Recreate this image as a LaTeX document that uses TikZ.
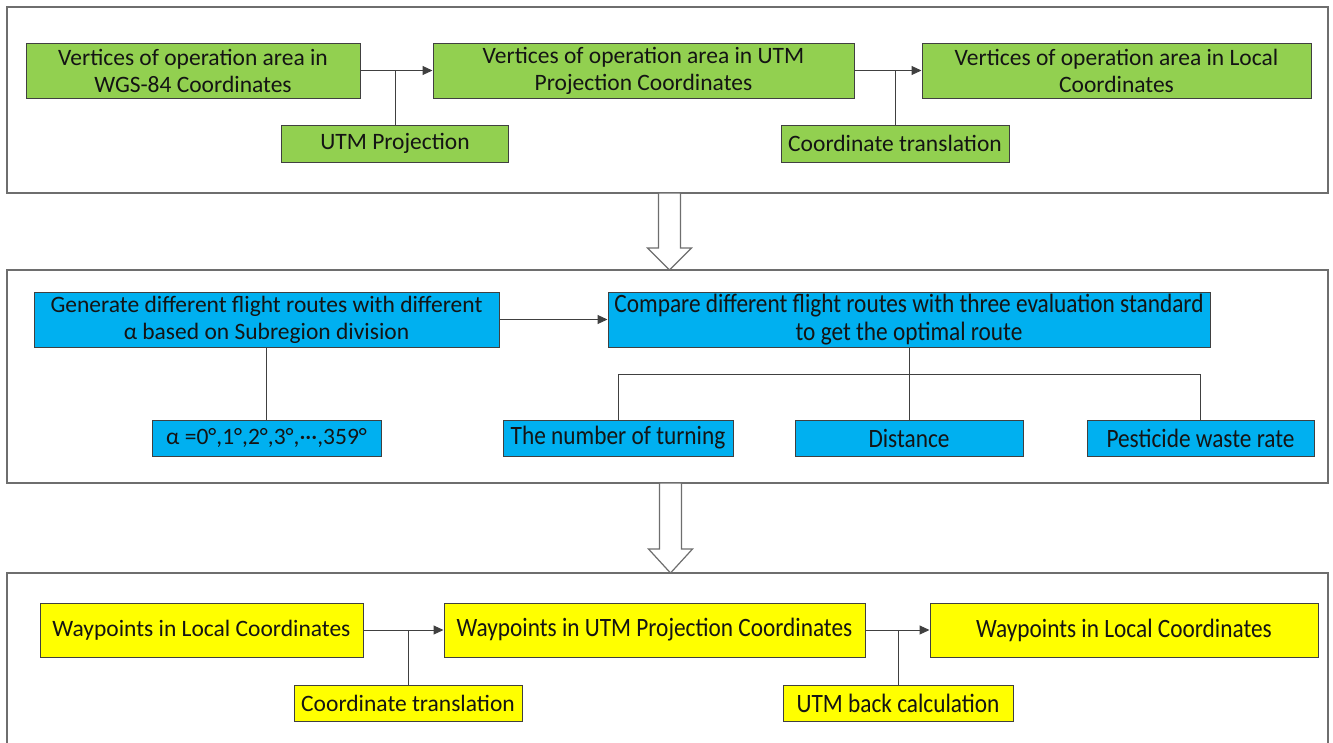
\documentclass[tikz,border=0pt]{standalone}
\usepackage{fontspec}
\setmainfont{Carlito}
\newfontfamily\condfont[FakeStretch=0.88]{Carlito}
\usetikzlibrary{arrows.meta}
\definecolor{grn}{HTML}{92D050}
\definecolor{blu}{HTML}{00B0F0}
\definecolor{yel}{HTML}{FFFF00}
\definecolor{edge}{HTML}{404040}
\definecolor{panel}{HTML}{6E6E6E}
\definecolor{txt}{HTML}{141414}
\tikzset{
  box/.style={draw=edge, line width=1pt, inner sep=0pt, align=center, text=txt,
    font=\fontsize{23.5}{27}\selectfont},
  cond/.style={font=\condfont\fontsize{26.5}{28}\selectfont},
  gbox/.style={box, fill=grn},
  bbox/.style={box, fill=blu},
  ybox/.style={box, fill=yel},
  panelbox/.style={draw=panel, line width=1.4pt, inner sep=0pt},
  conn/.style={draw=edge, line width=1pt},
  arr/.style={conn, -{Triangle[length=10pt,width=9pt]}},
  blockarrow/.style={draw=panel, line width=1.2pt, fill=white},
}
\begin{document}
\begin{tikzpicture}[x=1pt,y=-1pt]
\useasboundingbox (0,0) rectangle (1333,742);
\begin{scope}
\clip (0,0) rectangle (1333,742);
% panels
\node[panelbox, minimum width=1321, minimum height=186] (p1) at (667.5,100) {};
\node[panelbox, minimum width=1321, minimum height=213] (p2) at (667.5,376.5) {};
\node[panelbox, minimum width=1321, minimum height=190] (p3) at (667.5,668) {};
% block arrows
\draw[blockarrow] (658.5,193) -- (680.5,193) -- (680.5,248) -- (691.5,248) -- (669.5,270) -- (647.5,248) -- (658.5,248) -- cycle;
\draw[blockarrow] (659.5,483) -- (681.5,483) -- (681.5,549) -- (692.5,549) -- (670.5,573) -- (648.5,549) -- (659.5,549) -- cycle;
\end{scope}
% top panel
\node[gbox, minimum width=334, minimum height=55] (a1) at (193,70.5) {Vertices of operation area in\\WGS-84 Coordinates};
\node[gbox, minimum width=421, minimum height=55] (a2) at (643.5,70.5) {Vertices of operation area in UTM\\Projection Coordinates};
\node[gbox, minimum width=389, minimum height=55] (a3) at (1116.5,70.5) {Vertices of operation area in Local\\Coordinates};
\node[gbox, minimum width=227, minimum height=37] (b1) at (395,143.5) {UTM Projection};
\node[gbox, minimum width=228, minimum height=37] (b2) at (895,143.5) {Coordinate translation};
\draw[arr] (a1) -- (a2);
\draw[arr] (a2) -- (a3);
\draw[conn] (b1.north) -- (b1.north |- a1.east);
\draw[conn] (b2.north) -- (b2.north |- a2.east);
% middle panel
\node[bbox, minimum width=465, minimum height=55] (c1) at (266.5,319.5) {Generate different flight routes with different\\α based on Subregion division};
\node[bbox, cond, minimum width=602, minimum height=55] (c2) at (909,319.5) {Compare different flight routes with three evaluation standard\\to get the optimal route};
\node[bbox, minimum width=229, minimum height=36] (d) at (266.5,438) {α =0°,1°,2°,3°,···,359°};
\node[bbox, cond, minimum width=230, minimum height=36] (e1) at (618,438) {The number of turning};
\node[bbox, cond, minimum width=228, minimum height=36] (e2) at (909,438) {Distance};
\node[bbox, cond, minimum width=227, minimum height=36] (e3) at (1200.5,438) {Pesticide waste rate};
\draw[arr] (c1) -- (c2);
\draw[conn] (c1.south) -- (d.north);
\coordinate (t) at (909,374);
\draw[conn] (c2.south) -- (e2.north);
\draw[conn] (e1.north) -- (e1.north |- t) -- (e3.north |- t) -- (e3.north);
% bottom panel
\node[ybox, minimum width=323, minimum height=54] (f1) at (201.5,630) {Waypoints in Local Coordinates};
\node[ybox, cond, minimum width=421, minimum height=54] (f2) at (654.5,630) {Waypoints in UTM Projection Coordinates};
\node[ybox, cond, minimum width=388, minimum height=54] (f3) at (1124,630) {Waypoints in Local Coordinates};
\node[ybox, minimum width=228, minimum height=36] (g1) at (408,703) {Coordinate translation};
\node[ybox, cond, minimum width=230, minimum height=36] (g2) at (898,703) {UTM back calculation};
\draw[arr] (f1) -- (f2);
\draw[arr] (f2) -- (f3);
\draw[conn] (g1.north) -- (g1.north |- f1.east);
\draw[conn] (g2.north) -- (g2.north |- f2.east);
\end{tikzpicture}
\end{document}
